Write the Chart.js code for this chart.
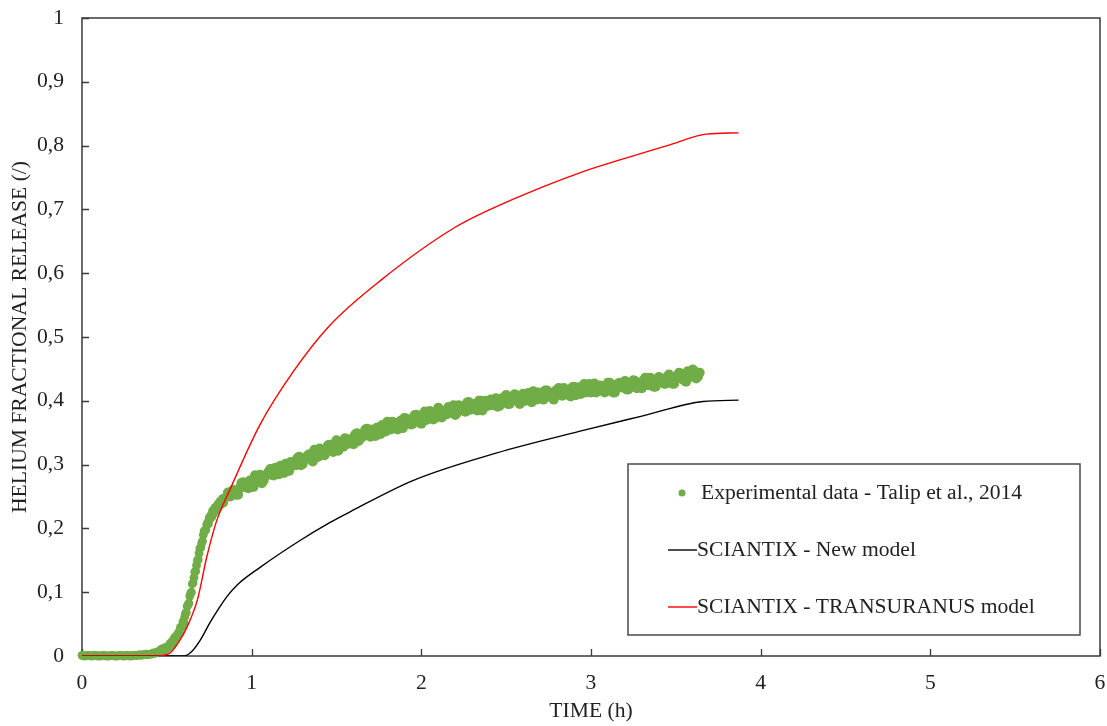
<!DOCTYPE html>
<html>
<head>
<meta charset="utf-8">
<script src="https://cdn.jsdelivr.net/npm/chart.js@4.4.1/dist/chart.umd.min.js"></script>
<style>
  html, body { margin: 0; padding: 0; background: #ffffff; }
  canvas { display: block; }
</style>
</head>
<body>
<canvas id="chart" width="1107" height="726"></canvas>
<script>
// Helium release during annealing: measured data and two SCIANTIX simulations.

// Experimental data (time in h, fractional release)
const expTime = [
  0.00, 0.01, 0.02, 0.03, 0.04, 0.05, 0.06, 0.07, 0.08, 0.09, 0.10, 0.11, 0.12, 0.13, 0.14,
  0.15, 0.16, 0.17, 0.18, 0.19, 0.20, 0.21, 0.22, 0.23, 0.24, 0.25, 0.26, 0.27, 0.28, 0.29,
  0.30, 0.31, 0.32, 0.33, 0.34, 0.35, 0.36, 0.37, 0.38, 0.39, 0.40, 0.41, 0.42, 0.43, 0.44,
  0.460, 0.465, 0.470, 0.475, 0.480, 0.485, 0.490, 0.495, 0.500, 0.505, 0.510, 0.515, 0.520, 0.525,
  0.530, 0.535, 0.540, 0.545, 0.550, 0.555, 0.560, 0.565, 0.570, 0.575, 0.580, 0.585, 0.590, 0.595,
  0.600, 0.605, 0.610, 0.615, 0.620, 0.625, 0.630, 0.635, 0.640, 0.645, 0.650, 0.655, 0.660, 0.665,
  0.670, 0.675, 0.680, 0.685, 0.690, 0.695, 0.700, 0.705, 0.710, 0.715, 0.720, 0.725, 0.730, 0.735,
  0.740, 0.745, 0.750, 0.755, 0.760, 0.765, 0.770, 0.775, 0.780, 0.785, 0.790, 0.795, 0.800, 0.805,
  0.810, 0.815, 0.820, 0.825, 0.830, 0.835, 0.840,
  0.86, 0.87, 0.88, 0.89, 0.90, 0.91, 0.92, 0.93, 0.94, 0.95,
  0.96, 0.97, 0.98, 0.99, 1.00, 1.01, 1.02, 1.03, 1.04, 1.05,
  1.06, 1.07, 1.08, 1.09, 1.10, 1.11, 1.12, 1.13, 1.14, 1.15,
  1.16, 1.17, 1.18, 1.19, 1.20, 1.21, 1.22, 1.23, 1.24, 1.25,
  1.26, 1.27, 1.28, 1.29, 1.30, 1.31, 1.32, 1.33, 1.34, 1.35,
  1.36, 1.37, 1.38, 1.39, 1.40, 1.41, 1.42, 1.43, 1.44, 1.45,
  1.46, 1.47, 1.48, 1.49, 1.50, 1.51, 1.52, 1.53, 1.54, 1.55,
  1.56, 1.57, 1.58, 1.59, 1.60, 1.61, 1.62, 1.63, 1.64, 1.65,
  1.66, 1.67, 1.68, 1.69, 1.70, 1.71, 1.72, 1.73, 1.74, 1.75,
  1.76, 1.77, 1.78, 1.79, 1.80, 1.81, 1.82, 1.83, 1.84, 1.85,
  1.86, 1.87, 1.88, 1.89, 1.90, 1.91, 1.92, 1.93, 1.94, 1.95,
  1.96, 1.97, 1.98, 1.99, 2.00, 2.01, 2.02, 2.03, 2.04, 2.05,
  2.06, 2.07, 2.08, 2.09, 2.10, 2.11, 2.12, 2.13, 2.14, 2.15,
  2.16, 2.17, 2.18, 2.19, 2.20, 2.21, 2.22, 2.23, 2.24, 2.25,
  2.26, 2.27, 2.28, 2.29, 2.30, 2.31, 2.32, 2.33, 2.34, 2.35,
  2.36, 2.37, 2.38, 2.39, 2.40, 2.41, 2.42, 2.43, 2.44, 2.45,
  2.46, 2.47, 2.48, 2.49, 2.50, 2.51, 2.52, 2.53, 2.54, 2.55,
  2.56, 2.57, 2.58, 2.59, 2.60, 2.61, 2.62, 2.63, 2.64, 2.65,
  2.66, 2.67, 2.68, 2.69, 2.70, 2.71, 2.72, 2.73, 2.74, 2.75,
  2.76, 2.77, 2.78, 2.79, 2.80, 2.81, 2.82, 2.83, 2.84, 2.85,
  2.86, 2.87, 2.88, 2.89, 2.90, 2.91, 2.92, 2.93, 2.94, 2.95,
  2.96, 2.97, 2.98, 2.99, 3.00, 3.01, 3.02, 3.03, 3.04, 3.05,
  3.06, 3.07, 3.08, 3.09, 3.10, 3.11, 3.12, 3.13, 3.14, 3.15,
  3.16, 3.17, 3.18, 3.19, 3.20, 3.21, 3.22, 3.23, 3.24, 3.25,
  3.26, 3.27, 3.28, 3.29, 3.30, 3.31, 3.32, 3.33, 3.34, 3.35,
  3.36, 3.37, 3.38, 3.39, 3.40, 3.41, 3.42, 3.43, 3.44, 3.45,
  3.46, 3.47, 3.48, 3.49, 3.50, 3.51, 3.52, 3.53, 3.54, 3.55,
  3.56, 3.57, 3.58, 3.59, 3.60, 3.61, 3.62, 3.63, 3.64
];
const expRelease = [
  0.001, 0, 0, 0.001, 0.001, 0, 0, 0.001, 0.001, 0, 0, 0, 0.001, 0.001, 0,
  0, 0, 0.001, 0.001, 0, 0, 0, 0.001, 0.001, 0, 0, 0.001, 0.001, 0, 0,
  0.001, 0.001, 0.001, 0.001, 0.002, 0.001, 0.002, 0.002, 0.003, 0.002, 0.003, 0.003, 0.005, 0.004, 0.006,
  0.009, 0.008, 0.011, 0.010, 0.008, 0.012, 0.013, 0.011, 0.012, 0.015, 0.013, 0.017, 0.020, 0.018,
  0.017, 0.024, 0.024, 0.029, 0.025, 0.030, 0.033, 0.033, 0.037, 0.037, 0.045, 0.045, 0.047, 0.054,
  0.052, 0.061, 0.067, 0.068, 0.078, 0.080, 0.083, 0.094, 0.098, 0.100, 0.113, 0.115, 0.123, 0.132,
  0.133, 0.142, 0.150, 0.151, 0.161, 0.169, 0.170, 0.177, 0.180, 0.190, 0.196, 0.196, 0.198, 0.206,
  0.209, 0.207, 0.217, 0.215, 0.221, 0.218, 0.228, 0.223, 0.229, 0.233, 0.230, 0.229, 0.238, 0.238,
  0.235, 0.243, 0.239, 0.239, 0.247, 0.240, 0.247,
  0.256, 0.249, 0.250, 0.260, 0.259, 0.253, 0.253, 0.263, 0.271, 0.272,
  0.265, 0.266, 0.263, 0.275, 0.275, 0.265, 0.283, 0.279, 0.274, 0.284,
  0.271, 0.275, 0.282, 0.284, 0.289, 0.293, 0.284, 0.283, 0.295, 0.288,
  0.285, 0.298, 0.293, 0.287, 0.301, 0.299, 0.290, 0.304, 0.304, 0.299,
  0.299, 0.310, 0.312, 0.299, 0.301, 0.308, 0.311, 0.314, 0.316, 0.309,
  0.305, 0.323, 0.319, 0.312, 0.325, 0.321, 0.316, 0.315, 0.322, 0.330,
  0.331, 0.325, 0.320, 0.333, 0.338, 0.322, 0.329, 0.335, 0.328, 0.341,
  0.339, 0.333, 0.339, 0.340, 0.332, 0.347, 0.349, 0.337, 0.341, 0.343,
  0.348, 0.355, 0.356, 0.346, 0.344, 0.355, 0.351, 0.345, 0.358, 0.356,
  0.348, 0.362, 0.360, 0.352, 0.367, 0.358, 0.355, 0.367, 0.361, 0.358,
  0.355, 0.367, 0.369, 0.357, 0.373, 0.372, 0.365, 0.369, 0.363, 0.364,
  0.377, 0.378, 0.374, 0.371, 0.364, 0.378, 0.383, 0.370, 0.374, 0.384,
  0.381, 0.371, 0.373, 0.381, 0.389, 0.386, 0.374, 0.379, 0.383, 0.379,
  0.390, 0.389, 0.381, 0.393, 0.378, 0.381, 0.393, 0.389, 0.391, 0.387,
  0.383, 0.397, 0.398, 0.386, 0.389, 0.395, 0.387, 0.385, 0.400, 0.400,
  0.385, 0.395, 0.400, 0.392, 0.397, 0.402, 0.393, 0.400, 0.404, 0.391,
  0.392, 0.403, 0.403, 0.406, 0.409, 0.395, 0.395, 0.401, 0.402, 0.410,
  0.408, 0.400, 0.395, 0.406, 0.411, 0.400, 0.402, 0.412, 0.405, 0.398,
  0.415, 0.408, 0.402, 0.413, 0.412, 0.405, 0.402, 0.416, 0.416, 0.408,
  0.412, 0.405, 0.402, 0.415, 0.417, 0.420, 0.411, 0.408, 0.420, 0.416,
  0.410, 0.412, 0.407, 0.421, 0.422, 0.409, 0.419, 0.421, 0.411, 0.418,
  0.426, 0.413, 0.417, 0.426, 0.413, 0.417, 0.427, 0.413, 0.416, 0.424,
  0.422, 0.423, 0.413, 0.416, 0.428, 0.428, 0.425, 0.413, 0.413, 0.424,
  0.427, 0.428, 0.421, 0.422, 0.431, 0.418, 0.418, 0.428, 0.425, 0.432,
  0.431, 0.420, 0.422, 0.427, 0.420, 0.432, 0.436, 0.425, 0.425, 0.436,
  0.432, 0.422, 0.422, 0.432, 0.437, 0.435, 0.431, 0.427, 0.427, 0.438,
  0.441, 0.431, 0.427, 0.427, 0.438, 0.440, 0.444, 0.439, 0.434, 0.432,
  0.430, 0.446, 0.444, 0.438, 0.449, 0.446, 0.435, 0.438, 0.444
];

// SCIANTIX - New model
const newModelTime    = [0, 0.60, 0.65, 0.697, 0.756, 0.815, 0.854, 0.913, 1.05, 1.285, 1.46, 1.58, 1.95, 2.44, 2.93, 3.30, 3.66, 3.87];
const newModelRelease = [0, 0,    0.008, 0.025, 0.053, 0.078, 0.093, 0.111, 0.139, 0.181, 0.209, 0.226, 0.275, 0.318, 0.352, 0.376, 0.399, 0.401];

// SCIANTIX - TRANSURANUS model
const turTime    = [0, 0.44, 0.52, 0.58, 0.62, 0.68, 0.736, 0.795, 0.874, 1.05, 1.246, 1.456, 1.766, 2.20, 2.56, 2.93, 3.20, 3.45, 3.68, 3.87];
const turRelease = [0, 0,    0.005, 0.026, 0.046, 0.088, 0.156, 0.213, 0.262, 0.363, 0.446, 0.517, 0.590, 0.672, 0.718, 0.757, 0.780, 0.800, 0.818, 0.820];

// Axis tick labels (decimal comma)
const xTickLabels = ['0', '1', '2', '3', '4', '5', '6'];
const yTickLabels = ['0', '0,1', '0,2', '0,3', '0,4', '0,5', '0,6', '0,7', '0,8', '0,9', '1'];

const seriesNames = [
  'Experimental data - Talip et al., 2014',
  'SCIANTIX - New model',
  'SCIANTIX - TRANSURANUS model'
];

const FONT_FAMILY = '"Liberation Serif", "Times New Roman", serif';
const FONT_SIZE = 21.6;
const TEXT_COLOR = '#222222';
const GREEN = '#70AD47';

const toPoints = (xs, ys) => xs.map((x, i) => ({ x: x, y: ys[i] }));

// Closed frame around the plot area with inward tick marks
const framePlugin = {
  id: 'frame',
  beforeDatasetsDraw(chart) {
    const { ctx, chartArea: a, scales } = chart;
    ctx.save();
    ctx.strokeStyle = '#3a3a3a';
    ctx.lineWidth = 1.5;
    ctx.strokeRect(a.left, a.top, a.right - a.left, a.bottom - a.top);
    ctx.beginPath();
    scales.y.ticks.forEach(t => {
      const py = Math.round(scales.y.getPixelForValue(t.value)) + 0.5;
      ctx.moveTo(a.left, py);
      ctx.lineTo(a.left + 7, py);
    });
    scales.x.ticks.forEach(t => {
      const px = Math.round(scales.x.getPixelForValue(t.value)) + 0.5;
      ctx.moveTo(px, a.bottom);
      ctx.lineTo(px, a.bottom - 7);
    });
    ctx.lineWidth = 1.3;
    ctx.stroke();
    ctx.restore();
  }
};

// Boxed legend inside the plot area
const legendBoxPlugin = {
  id: 'legendBox',
  afterDraw(chart, args, opts) {
    const { ctx } = chart;
    const box = opts.box;
    ctx.save();
    ctx.fillStyle = '#ffffff';
    ctx.fillRect(box.x, box.y, box.w, box.h);
    ctx.strokeStyle = '#4a4a4a';
    ctx.lineWidth = 1.5;
    ctx.strokeRect(box.x, box.y, box.w, box.h);
    ctx.font = opts.font;
    ctx.textBaseline = 'middle';
    ctx.textAlign = 'left';
    opts.order.forEach((dsIndex, row) => {
      const ds = chart.data.datasets[dsIndex];
      const y = opts.rowY[row];
      if (ds.showLine === false) {
        ctx.beginPath();
        ctx.fillStyle = ds.pointBackgroundColor;
        ctx.arc(opts.markerX, y, 3.5, 0, Math.PI * 2);
        ctx.fill();
        ctx.fillStyle = TEXT_COLOR;
        ctx.fillText(ds.label, opts.pointTextX, y);
      } else {
        ctx.beginPath();
        ctx.strokeStyle = ds.borderColor;
        ctx.lineWidth = ds.borderWidth;
        ctx.moveTo(opts.lineX0, y);
        ctx.lineTo(opts.lineX1, y);
        ctx.stroke();
        ctx.fillStyle = TEXT_COLOR;
        ctx.fillText(ds.label, opts.lineTextX, y);
      }
    });
    ctx.restore();
  }
};

new Chart(document.getElementById('chart'), {
  type: 'line',
  data: {
    datasets: [
      {
        label: seriesNames[0],
        data: toPoints(expTime, expRelease),
        showLine: false,
        // slightly larger markers on the upper plateau, smaller near the baseline
        pointRadius: (c) => (c.raw && c.raw.y > 0.25 ? 5.1 : 4.4),
        pointBorderWidth: 0,
        pointBackgroundColor: GREEN,
        pointBorderColor: GREEN,
        clip: false,
        order: 3
      },
      {
        label: seriesNames[1],
        data: toPoints(newModelTime, newModelRelease),
        borderColor: '#000000',
        borderWidth: 1.4,
        pointRadius: 0,
        cubicInterpolationMode: 'monotone',
        fill: false,
        order: 2
      },
      {
        label: seriesNames[2],
        data: toPoints(turTime, turRelease),
        borderColor: '#ff0000',
        borderWidth: 1.4,
        pointRadius: 0,
        cubicInterpolationMode: 'monotone',
        fill: false,
        order: 1
      }
    ]
  },
  options: {
    responsive: false,
    animation: false,
    devicePixelRatio: 1,
    layout: { padding: { top: 18, right: 7, left: 0, bottom: 0 } },
    plugins: {
      legend: { display: false },
      tooltip: { enabled: false },
      legendBox: {
        box: { x: 628, y: 464, w: 452, h: 171 },
        font: FONT_SIZE + 'px ' + FONT_FAMILY,
        order: [0, 1, 2],
        rowY: [493, 550, 607],
        markerX: 682,
        pointTextX: 701,
        lineX0: 668,
        lineX1: 697,
        lineTextX: 697
      }
    },
    scales: {
      x: {
        type: 'linear',
        min: 0,
        max: 6,
        grid: { display: false, drawTicks: false },
        border: { display: false },
        ticks: {
          stepSize: 1,
          autoSkip: false,
          maxRotation: 0,
          padding: 14,
          color: TEXT_COLOR,
          font: { family: FONT_FAMILY, size: FONT_SIZE },
          callback: (v, i) => xTickLabels[i]
        },
        title: {
          display: true,
          text: 'TIME (h)',
          color: TEXT_COLOR,
          font: { family: FONT_FAMILY, size: FONT_SIZE },
          padding: { top: 0, bottom: 2 }
        },
        afterFit(scale) {
          scale.height = 70;
          scale.paddingLeft = 0;
          scale.paddingRight = 0;
        }
      },
      y: {
        type: 'linear',
        min: 0,
        max: 1,
        grid: { display: false, drawTicks: false },
        border: { display: false },
        ticks: {
          stepSize: 0.1,
          autoSkip: false,
          padding: 18,
          color: TEXT_COLOR,
          font: { family: FONT_FAMILY, size: FONT_SIZE },
          callback: (v, i) => yTickLabels[i]
        },
        title: {
          display: true,
          text: 'HELIUM FRACTIONAL RELEASE (/)',
          color: TEXT_COLOR,
          font: { family: FONT_FAMILY, size: FONT_SIZE },
          padding: { top: 7, bottom: 0 }
        },
        afterFit(scale) {
          scale.width = 82;
          scale.paddingTop = 0;
          scale.paddingBottom = 0;
        }
      }
    }
  },
  plugins: [framePlugin, legendBoxPlugin]
});
</script>
</body>
</html>
